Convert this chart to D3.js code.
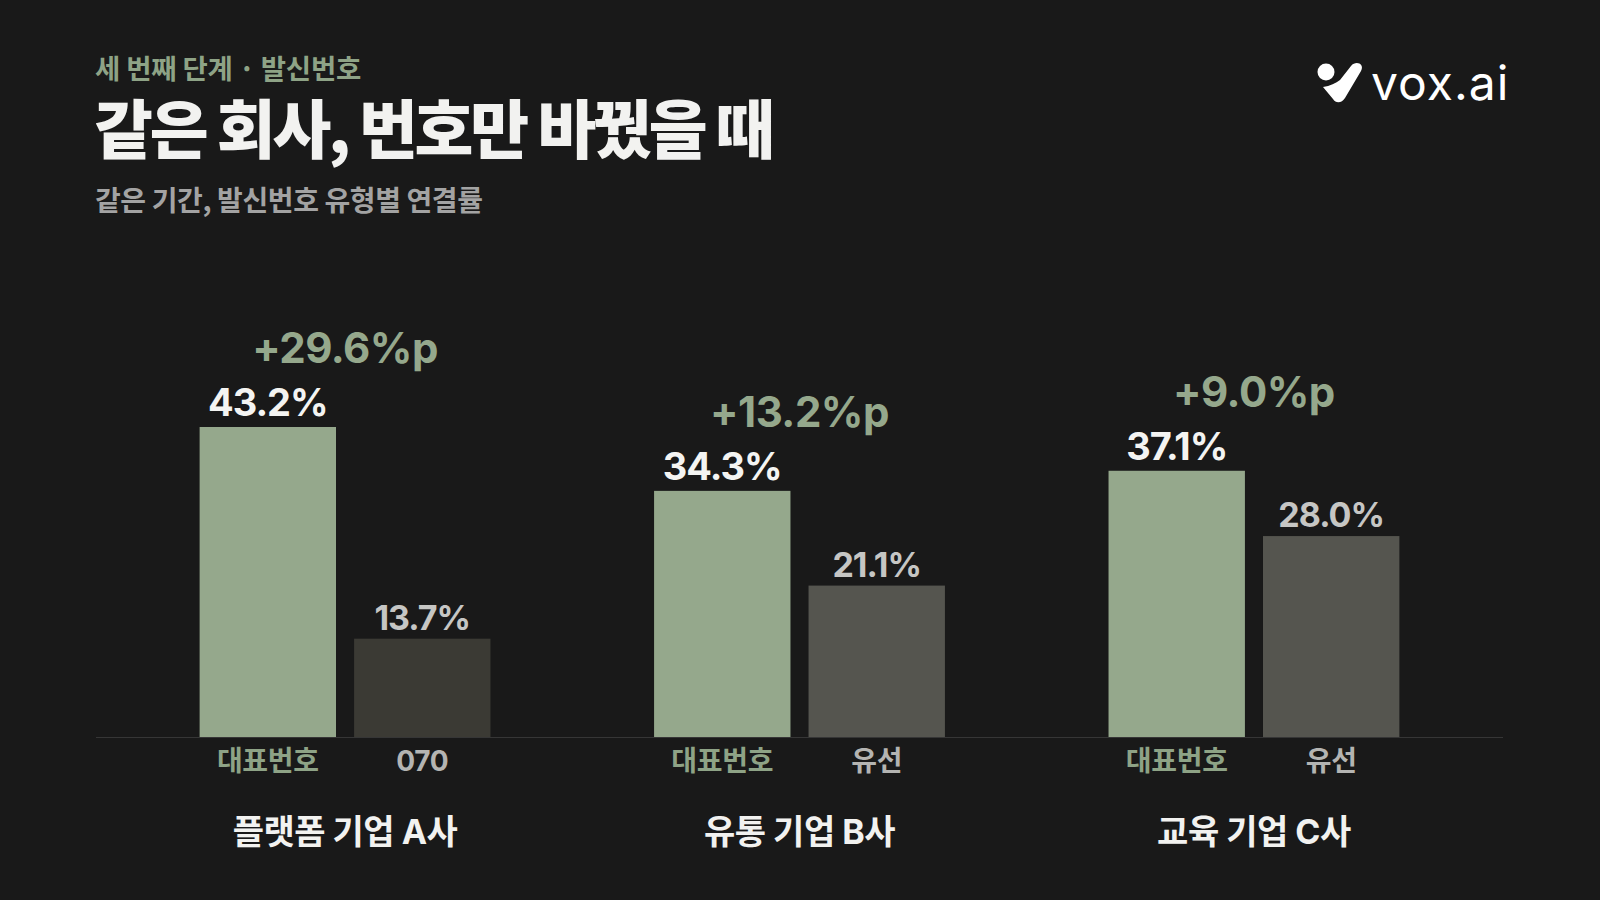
<!DOCTYPE html>
<meta charset="utf-8">
<style>

html, body {
  margin: 0;
  background: #191919;
}

svg text {
  font-family: "Inter", "Noto Sans CJK KR", sans-serif;
}

</style>
<svg width="1600" height="900"></svg>
<script src="https://cdn.jsdelivr.net/npm/d3@7"></script>
<script>

// Data
var groups = ["플랫폼 기업 A사", "유통 기업 B사", "교육 기업 C사"];
var repLabel = "대표번호";
var altLabels = ["070", "유선", "유선"];
var repValues = [43.2, 34.3, 37.1];
var altValues = [13.7, 21.1, 28.0];
var diffLabels = ["+29.6%p", "+13.2%p", "+9.0%p"];

var green = "#95a88c",
    altColors = ["#3b3a34", "#55554f", "#55554f"];

var svg = d3.select("svg");

svg.append("rect")
    .attr("width", 1600)
    .attr("height", 900)
    .attr("fill", "#191919");

// Headings
svg.append("text")
    .attr("x", 95)
    .attr("y", 79)
    .attr("fill", "#8ea386")
    .style("font-family", "'Noto Sans CJK KR'")
    .style("font-size", "27.5px")
    .style("font-weight", 700)
    .style("letter-spacing", "-0.2px")
    .text("세 번째 단계 · 발신번호");

svg.append("text")
    .attr("x", 94)
    .attr("y", 153)
    .attr("fill", "#f2f2f0")
    .style("font-family", "'Noto Sans CJK KR'")
    .style("font-size", "64px")
    .style("font-weight", 800)
    .style("letter-spacing", "-3.2px")
    .text("같은 회사, 번호만 바꿨을 때");

svg.append("text")
    .attr("x", 95)
    .attr("y", 211)
    .attr("fill", "#a3a3a3")
    .style("font-family", "'Noto Sans CJK KR'")
    .style("font-size", "28px")
    .style("font-weight", 700)
    .style("letter-spacing", "-0.4px")
    .text("같은 기간, 발신번호 유형별 연결률");

// Logo
var logo = svg.append("g").attr("fill", "#ffffff");
logo.append("circle").attr("cx", 1326).attr("cy", 72).attr("r", 8.5);
logo.append("path")
    .attr("d", "M1323,87 C1330,86 1336,83 1340,80 L1351,66 C1356,60 1365,64 1361,71 L1345,98 C1342,103 1336,104 1333,99 Z");
logo.append("text")
    .attr("x", 1371)
    .attr("y", 100)
    .style("font-size", "48px")
    .style("font-weight", 400)
    .style("letter-spacing", "1px")
    .text("vox.ai");

// Scales
var baseline = 737;

var x0 = d3.scaleBand()
    .domain(groups)
    .range([96, 1503])
    .paddingInner(0.36)
    .paddingOuter(0.228);

var x1 = d3.scaleBand()
    .domain(["rep", "alt"])
    .range([0, x0.bandwidth()])
    .paddingInner(0.117);

var y = d3.scaleLinear()
    .domain([0, 50])
    .range([baseline, baseline - 50 * 7.176]);

var rows = groups.map(function(g, i) {
  return {
    group: g,
    bars: [
      {key: "rep", value: repValues[i], label: repLabel, fill: green},
      {key: "alt", value: altValues[i], label: altLabels[i], fill: altColors[i]}
    ],
    diff: diffLabels[i]
  };
});

// Axis line
svg.append("line")
    .attr("x1", 96)
    .attr("x2", 1503)
    .attr("y1", baseline + 0.5)
    .attr("y2", baseline + 0.5)
    .attr("stroke", "#363636")
    .attr("stroke-width", 1);

var group = svg.selectAll(".group")
  .data(rows)
  .enter().append("g")
    .attr("class", "group")
    .attr("transform", function(d) { return "translate(" + x0(d.group) + ",0)"; });

var bar = group.selectAll(".bar")
  .data(function(d) { return d.bars; })
  .enter().append("g")
    .attr("class", "bar");

bar.append("rect")
    .attr("x", function(d) { return x1(d.key); })
    .attr("width", x1.bandwidth())
    .attr("y", function(d) { return y(d.value); })
    .attr("height", function(d) { return baseline - y(d.value); })
    .attr("fill", function(d) { return d.fill; });

// Value labels
bar.append("text")
    .attr("x", function(d) { return x1(d.key) + x1.bandwidth() / 2; })
    .attr("y", function(d) { return y(d.value) - (d.key === "rep" ? 11 : 9); })
    .attr("text-anchor", "middle")
    .attr("fill", function(d) { return d.key === "rep" ? "#f4f4f2" : "#c6c6c4"; })
    .style("font-size", function(d) { return d.key === "rep" ? "38px" : "34px"; })
    .style("font-weight", 700)
    .style("letter-spacing", "-1px")
    .text(function(d) { return d.value.toFixed(1) + "%"; });

// Category labels under bars
bar.append("text")
    .attr("x", function(d) { return x1(d.key) + x1.bandwidth() / 2; })
    .attr("y", 771)
    .attr("text-anchor", "middle")
    .attr("fill", function(d) { return d.key === "rep" ? "#8ea386" : "#b4b4b2"; })
    .style("font-family", function(d) { return d.key === "rep" ? "'Noto Sans CJK KR'" : null; })
    .style("font-size", "28px")
    .style("font-weight", 700)
    .style("letter-spacing", "-0.3px")
    .text(function(d) { return d.label; });

// Difference labels
group.append("text")
    .attr("x", x0.bandwidth() / 2)
    .attr("y", function(d) { return y(d3.max(d.bars, function(b) { return b.value; })) - 64; })
    .attr("text-anchor", "middle")
    .attr("fill", green)
    .style("font-size", "42px")
    .style("font-weight", 700)
    .style("letter-spacing", "-0.5px")
    .text(function(d) { return d.diff; });

// Group labels
group.append("text")
    .attr("x", x0.bandwidth() / 2)
    .attr("y", 844)
    .attr("text-anchor", "middle")
    .attr("fill", "#f2f2f0")
    .style("font-size", "34px")
    .style("font-weight", 700)
    .style("letter-spacing", "-0.5px")
    .text(function(d) { return d.group; });

</script>
